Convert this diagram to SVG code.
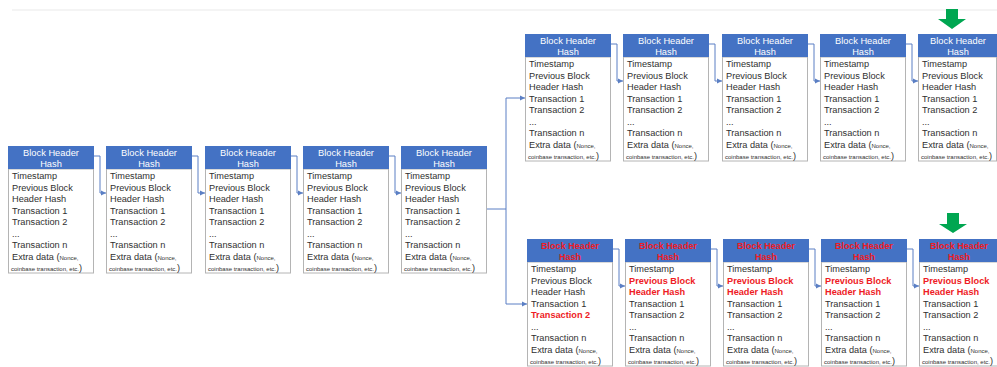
<svg xmlns="http://www.w3.org/2000/svg" width="997" height="367" viewBox="0 0 997 367">
  <style>
    text { font-family: "Liberation Sans", Arial, sans-serif; }
    .hd { fill: #4472C4; }
    .bd { fill: #ffffff; stroke: #b4b4b4; stroke-width: 1; }
    .ht { fill: #ffffff; font-size: 9.3px; text-anchor: middle; }
    .hr { fill: #ee1c25; font-size: 9.1px; font-weight: bold; text-anchor: middle; }
    .tx { fill: #303030; font-size: 9.2px; }
    .rd { fill: #ee1c25; font-weight: bold; }
    .sm { font-size: 6px; }
    .cn { fill: none; stroke: #5b7fc4; stroke-width: 1; }
    .gr { fill: #00a651; }
  </style>
  <defs>
    <marker id="ah" markerUnits="userSpaceOnUse" markerWidth="6" markerHeight="6" refX="5" refY="3" orient="auto">
      <path d="M0,0.5 L5,3 L0,5.5 z" fill="#5b7fc4"/>
    </marker>
  </defs>

  <!-- faint page edge line -->
  <rect x="12" y="9" width="985" height="2" fill="#f4f4f4"/>

  <!-- connectors -->
  <g id="connectors">
    <path class="cn" d="M94,156 H100 V193 H106" marker-end="url(#ah)"/>
    <path class="cn" d="M192,156 H198 V193 H205" marker-end="url(#ah)"/>
    <path class="cn" d="M291,156 H297 V193 H303" marker-end="url(#ah)"/>
    <path class="cn" d="M389,156 H395 V193 H401" marker-end="url(#ah)"/>
    <path class="cn" d="M487,209 H506"/>
    <path class="cn" d="M506,209 V98 H525" marker-end="url(#ah)"/>
    <path class="cn" d="M506,209 V304 H527" marker-end="url(#ah)"/>
    <path class="cn" d="M611,44 H617 V81 H623" marker-end="url(#ah)"/>
    <path class="cn" d="M709,44 H715 V81 H722" marker-end="url(#ah)"/>
    <path class="cn" d="M808,44 H814 V81 H820" marker-end="url(#ah)"/>
    <path class="cn" d="M906,44 H912 V81 H918" marker-end="url(#ah)"/>
    <path class="cn" d="M613,249 H619 V286 H625" marker-end="url(#ah)"/>
    <path class="cn" d="M711,249 H717 V286 H723" marker-end="url(#ah)"/>
    <path class="cn" d="M809,249 H815 V286 H821" marker-end="url(#ah)"/>
    <path class="cn" d="M907,249 H913 V286 H919" marker-end="url(#ah)"/>
  </g>

  <!-- main chain -->
  <g id="a1" transform="translate(8,146)">
    <rect class="bd" x="0.5" y="23" width="85" height="104"/><rect class="hd" width="86" height="23"/>
    <text class="ht" x="43" y="10">Block Header</text><text class="ht" x="43" y="20.5">Hash</text>
    <text class="tx" x="4" y="33">Timestamp</text><text class="tx" x="4" y="44.5">Previous Block</text><text class="tx" x="4" y="56">Header Hash</text>
    <text class="tx" x="4" y="67.5">Transaction 1</text><text class="tx" x="4" y="79">Transaction 2</text><text class="tx" x="4" y="90.5">...</text>
    <text class="tx" x="4" y="102">Transaction n</text><text class="tx" x="4" y="113.5">Extra data (<tspan class="sm">Nonce,</tspan></text>
    <text class="tx" x="3" y="124.5"><tspan class="sm">coinbase transaction, etc.</tspan>)</text>
  </g>
  <g id="a2" transform="translate(106,146)">
    <rect class="bd" x="0.5" y="23" width="85" height="104"/><rect class="hd" width="86" height="23"/>
    <text class="ht" x="43" y="10">Block Header</text><text class="ht" x="43" y="20.5">Hash</text>
    <text class="tx" x="4" y="33">Timestamp</text><text class="tx" x="4" y="44.5">Previous Block</text><text class="tx" x="4" y="56">Header Hash</text>
    <text class="tx" x="4" y="67.5">Transaction 1</text><text class="tx" x="4" y="79">Transaction 2</text><text class="tx" x="4" y="90.5">...</text>
    <text class="tx" x="4" y="102">Transaction n</text><text class="tx" x="4" y="113.5">Extra data (<tspan class="sm">Nonce,</tspan></text>
    <text class="tx" x="3" y="124.5"><tspan class="sm">coinbase transaction, etc.</tspan>)</text>
  </g>
  <g id="a3" transform="translate(205,146)">
    <rect class="bd" x="0.5" y="23" width="85" height="104"/><rect class="hd" width="86" height="23"/>
    <text class="ht" x="43" y="10">Block Header</text><text class="ht" x="43" y="20.5">Hash</text>
    <text class="tx" x="4" y="33">Timestamp</text><text class="tx" x="4" y="44.5">Previous Block</text><text class="tx" x="4" y="56">Header Hash</text>
    <text class="tx" x="4" y="67.5">Transaction 1</text><text class="tx" x="4" y="79">Transaction 2</text><text class="tx" x="4" y="90.5">...</text>
    <text class="tx" x="4" y="102">Transaction n</text><text class="tx" x="4" y="113.5">Extra data (<tspan class="sm">Nonce,</tspan></text>
    <text class="tx" x="3" y="124.5"><tspan class="sm">coinbase transaction, etc.</tspan>)</text>
  </g>
  <g id="a4" transform="translate(303,146)">
    <rect class="bd" x="0.5" y="23" width="85" height="104"/><rect class="hd" width="86" height="23"/>
    <text class="ht" x="43" y="10">Block Header</text><text class="ht" x="43" y="20.5">Hash</text>
    <text class="tx" x="4" y="33">Timestamp</text><text class="tx" x="4" y="44.5">Previous Block</text><text class="tx" x="4" y="56">Header Hash</text>
    <text class="tx" x="4" y="67.5">Transaction 1</text><text class="tx" x="4" y="79">Transaction 2</text><text class="tx" x="4" y="90.5">...</text>
    <text class="tx" x="4" y="102">Transaction n</text><text class="tx" x="4" y="113.5">Extra data (<tspan class="sm">Nonce,</tspan></text>
    <text class="tx" x="3" y="124.5"><tspan class="sm">coinbase transaction, etc.</tspan>)</text>
  </g>
  <g id="a5" transform="translate(401,146)">
    <rect class="bd" x="0.5" y="23" width="85" height="104"/><rect class="hd" width="86" height="23"/>
    <text class="ht" x="43" y="10">Block Header</text><text class="ht" x="43" y="20.5">Hash</text>
    <text class="tx" x="4" y="33">Timestamp</text><text class="tx" x="4" y="44.5">Previous Block</text><text class="tx" x="4" y="56">Header Hash</text>
    <text class="tx" x="4" y="67.5">Transaction 1</text><text class="tx" x="4" y="79">Transaction 2</text><text class="tx" x="4" y="90.5">...</text>
    <text class="tx" x="4" y="102">Transaction n</text><text class="tx" x="4" y="113.5">Extra data (<tspan class="sm">Nonce,</tspan></text>
    <text class="tx" x="3" y="124.5"><tspan class="sm">coinbase transaction, etc.</tspan>)</text>
  </g>

  <!-- upper branch -->
  <g id="b1" transform="translate(525,34)">
    <rect class="bd" x="0.5" y="23" width="85" height="104"/><rect class="hd" width="86" height="23"/>
    <text class="ht" x="43" y="10">Block Header</text><text class="ht" x="43" y="20.5">Hash</text>
    <text class="tx" x="4" y="33">Timestamp</text><text class="tx" x="4" y="44.5">Previous Block</text><text class="tx" x="4" y="56">Header Hash</text>
    <text class="tx" x="4" y="67.5">Transaction 1</text><text class="tx" x="4" y="79">Transaction 2</text><text class="tx" x="4" y="90.5">...</text>
    <text class="tx" x="4" y="102">Transaction n</text><text class="tx" x="4" y="113.5">Extra data (<tspan class="sm">Nonce,</tspan></text>
    <text class="tx" x="3" y="124.5"><tspan class="sm">coinbase transaction, etc.</tspan>)</text>
  </g>
  <g id="b2" transform="translate(623,34)">
    <rect class="bd" x="0.5" y="23" width="85" height="104"/><rect class="hd" width="86" height="23"/>
    <text class="ht" x="43" y="10">Block Header</text><text class="ht" x="43" y="20.5">Hash</text>
    <text class="tx" x="4" y="33">Timestamp</text><text class="tx" x="4" y="44.5">Previous Block</text><text class="tx" x="4" y="56">Header Hash</text>
    <text class="tx" x="4" y="67.5">Transaction 1</text><text class="tx" x="4" y="79">Transaction 2</text><text class="tx" x="4" y="90.5">...</text>
    <text class="tx" x="4" y="102">Transaction n</text><text class="tx" x="4" y="113.5">Extra data (<tspan class="sm">Nonce,</tspan></text>
    <text class="tx" x="3" y="124.5"><tspan class="sm">coinbase transaction, etc.</tspan>)</text>
  </g>
  <g id="b3" transform="translate(722,34)">
    <rect class="bd" x="0.5" y="23" width="85" height="104"/><rect class="hd" width="86" height="23"/>
    <text class="ht" x="43" y="10">Block Header</text><text class="ht" x="43" y="20.5">Hash</text>
    <text class="tx" x="4" y="33">Timestamp</text><text class="tx" x="4" y="44.5">Previous Block</text><text class="tx" x="4" y="56">Header Hash</text>
    <text class="tx" x="4" y="67.5">Transaction 1</text><text class="tx" x="4" y="79">Transaction 2</text><text class="tx" x="4" y="90.5">...</text>
    <text class="tx" x="4" y="102">Transaction n</text><text class="tx" x="4" y="113.5">Extra data (<tspan class="sm">Nonce,</tspan></text>
    <text class="tx" x="3" y="124.5"><tspan class="sm">coinbase transaction, etc.</tspan>)</text>
  </g>
  <g id="b4" transform="translate(820,34)">
    <rect class="bd" x="0.5" y="23" width="85" height="104"/><rect class="hd" width="86" height="23"/>
    <text class="ht" x="43" y="10">Block Header</text><text class="ht" x="43" y="20.5">Hash</text>
    <text class="tx" x="4" y="33">Timestamp</text><text class="tx" x="4" y="44.5">Previous Block</text><text class="tx" x="4" y="56">Header Hash</text>
    <text class="tx" x="4" y="67.5">Transaction 1</text><text class="tx" x="4" y="79">Transaction 2</text><text class="tx" x="4" y="90.5">...</text>
    <text class="tx" x="4" y="102">Transaction n</text><text class="tx" x="4" y="113.5">Extra data (<tspan class="sm">Nonce,</tspan></text>
    <text class="tx" x="3" y="124.5"><tspan class="sm">coinbase transaction, etc.</tspan>)</text>
  </g>
  <g id="b5" transform="translate(918,34)">
    <rect class="bd" x="0.5" y="23" width="78" height="104"/><rect class="hd" width="79" height="23"/>
    <text class="ht" x="40" y="10">Block Header</text><text class="ht" x="40" y="20.5">Hash</text>
    <text class="tx" x="4" y="33">Timestamp</text><text class="tx" x="4" y="44.5">Previous Block</text><text class="tx" x="4" y="56">Header Hash</text>
    <text class="tx" x="4" y="67.5">Transaction 1</text><text class="tx" x="4" y="79">Transaction 2</text><text class="tx" x="4" y="90.5">...</text>
    <text class="tx" x="4" y="102">Transaction n</text><text class="tx" x="4" y="113.5">Extra data (<tspan class="sm">Nonce,</tspan></text>
    <text class="tx" x="3" y="124.5"><tspan class="sm">coinbase transaction, etc.</tspan>)</text>
  </g>

  <!-- lower branch -->
  <g id="c1" transform="translate(527,239)">
    <rect class="bd" x="0.5" y="23" width="85" height="104"/><rect class="hd" width="86" height="23"/>
    <text class="hr" x="43" y="10">Block Header</text><text class="hr" x="43" y="20.5">Hash</text>
    <text class="tx" x="4" y="33">Timestamp</text><text class="tx" x="4" y="44.5">Previous Block</text><text class="tx" x="4" y="56">Header Hash</text>
    <text class="tx" x="4" y="67.5">Transaction 1</text><text class="tx rd" x="4" y="79">Transaction 2</text><text class="tx" x="4" y="90.5">...</text>
    <text class="tx" x="4" y="102">Transaction n</text><text class="tx" x="4" y="113.5">Extra data (<tspan class="sm">Nonce,</tspan></text>
    <text class="tx" x="3" y="124.5"><tspan class="sm">coinbase transaction, etc.</tspan>)</text>
  </g>
  <g id="c2" transform="translate(625,239)">
    <rect class="bd" x="0.5" y="23" width="85" height="104"/><rect class="hd" width="86" height="23"/>
    <text class="hr" x="43" y="10">Block Header</text><text class="hr" x="43" y="20.5">Hash</text>
    <text class="tx" x="4" y="33">Timestamp</text><text class="tx rd" x="4" y="44.5">Previous Block</text><text class="tx rd" x="4" y="56">Header Hash</text>
    <text class="tx" x="4" y="67.5">Transaction 1</text><text class="tx" x="4" y="79">Transaction 2</text><text class="tx" x="4" y="90.5">...</text>
    <text class="tx" x="4" y="102">Transaction n</text><text class="tx" x="4" y="113.5">Extra data (<tspan class="sm">Nonce,</tspan></text>
    <text class="tx" x="3" y="124.5"><tspan class="sm">coinbase transaction, etc.</tspan>)</text>
  </g>
  <g id="c3" transform="translate(723,239)">
    <rect class="bd" x="0.5" y="23" width="85" height="104"/><rect class="hd" width="86" height="23"/>
    <text class="hr" x="43" y="10">Block Header</text><text class="hr" x="43" y="20.5">Hash</text>
    <text class="tx" x="4" y="33">Timestamp</text><text class="tx rd" x="4" y="44.5">Previous Block</text><text class="tx rd" x="4" y="56">Header Hash</text>
    <text class="tx" x="4" y="67.5">Transaction 1</text><text class="tx" x="4" y="79">Transaction 2</text><text class="tx" x="4" y="90.5">...</text>
    <text class="tx" x="4" y="102">Transaction n</text><text class="tx" x="4" y="113.5">Extra data (<tspan class="sm">Nonce,</tspan></text>
    <text class="tx" x="3" y="124.5"><tspan class="sm">coinbase transaction, etc.</tspan>)</text>
  </g>
  <g id="c4" transform="translate(821,239)">
    <rect class="bd" x="0.5" y="23" width="85" height="104"/><rect class="hd" width="86" height="23"/>
    <text class="hr" x="43" y="10">Block Header</text><text class="hr" x="43" y="20.5">Hash</text>
    <text class="tx" x="4" y="33">Timestamp</text><text class="tx rd" x="4" y="44.5">Previous Block</text><text class="tx rd" x="4" y="56">Header Hash</text>
    <text class="tx" x="4" y="67.5">Transaction 1</text><text class="tx" x="4" y="79">Transaction 2</text><text class="tx" x="4" y="90.5">...</text>
    <text class="tx" x="4" y="102">Transaction n</text><text class="tx" x="4" y="113.5">Extra data (<tspan class="sm">Nonce,</tspan></text>
    <text class="tx" x="3" y="124.5"><tspan class="sm">coinbase transaction, etc.</tspan>)</text>
  </g>
  <g id="c5" transform="translate(919,239)">
    <rect class="bd" x="0.5" y="23" width="78" height="104"/><rect class="hd" width="78" height="23"/>
    <text class="hr" x="40" y="10">Block Header</text><text class="hr" x="40" y="20.5">Hash</text>
    <text class="tx" x="4" y="33">Timestamp</text><text class="tx rd" x="4" y="44.5">Previous Block</text><text class="tx rd" x="4" y="56">Header Hash</text>
    <text class="tx" x="4" y="67.5">Transaction 1</text><text class="tx" x="4" y="79">Transaction 2</text><text class="tx" x="4" y="90.5">...</text>
    <text class="tx" x="4" y="102">Transaction n</text><text class="tx" x="4" y="113.5">Extra data (<tspan class="sm">Nonce,</tspan></text>
    <text class="tx" x="3" y="124.5"><tspan class="sm">coinbase transaction, etc.</tspan>)</text>
  </g>

  <!-- green markers over the branch tips -->
  <g id="tipTop"><path class="gr" d="M946,9 H958 V19 H966 L952,29 L938,19 H946 z"/></g>
  <g id="tipBottom"><path class="gr" d="M947,213 H959 V224 H967 L953,233 L939,224 H947 z"/></g>
</svg>
